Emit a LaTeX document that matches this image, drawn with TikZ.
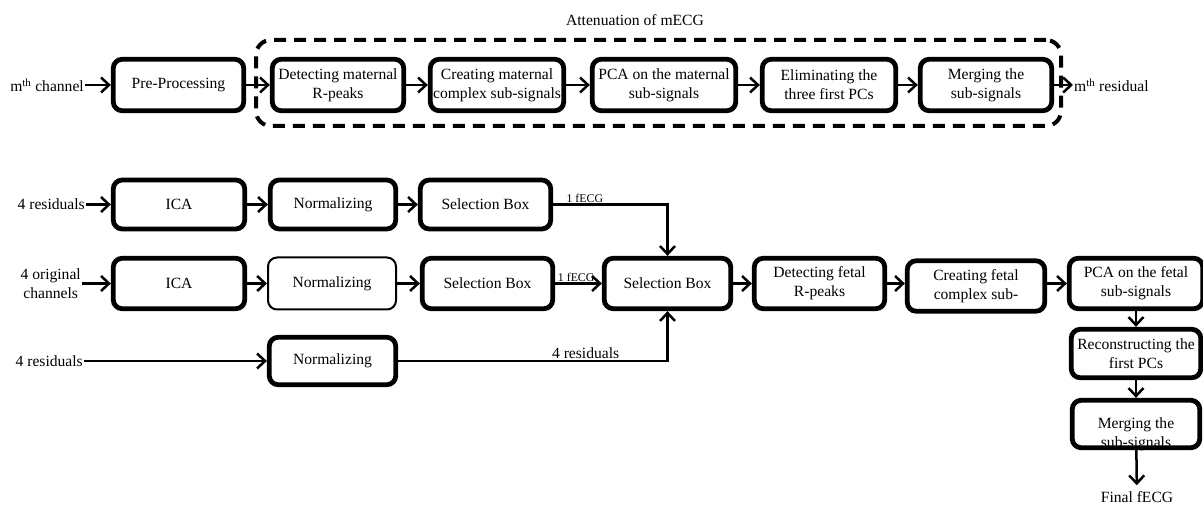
\documentclass[tikz,border=0pt]{standalone}
\usepackage{fontspec}
\setmainfont{Liberation Serif}
\usetikzlibrary{arrows.meta}
\begin{document}
\begin{tikzpicture}[x=1pt,y=-1pt, font=\fontsize{15.6}{19}\selectfont,
  box/.style={draw, line width=4.8pt, rounded corners=9pt, align=center, inner sep=0pt},
  thinbox/.style={box, line width=2pt},
  arr/.style={line width=2.5pt, -{Straight Barb[length=8pt,width=15pt]}},
  lab/.style={inner sep=1pt, align=center},
  small/.style={font=\fontsize{11.8}{13}\selectfont, inner sep=0.8pt}]
\useasboundingbox (0,0) rectangle (1203,505);

% ---------- top row ----------
\node[lab] (title) at (635,20) {Attenuation of mECG};
\node[draw, line width=4pt, dash pattern=on 12pt off 8pt, rounded corners=15pt,
      minimum width=805pt, minimum height=86pt, inner sep=0pt] (att) at (658.5,83) {};
\node[lab, anchor=east] (mch) at (85,85) {m\textsuperscript{th} channel};
\node[box, minimum width=130.5pt, minimum height=51.5pt] (pre) at (178.5,85) {Pre-Processing};
\node[box, minimum width=131.5pt, minimum height=51.5pt] (detM) at (338,85) {Detecting maternal\\R-peaks};
\node[box, minimum width=133.5pt, minimum height=51.5pt] (creM) at (497,85) {Creating maternal\\complex sub-signals};
\node[box, minimum width=143.5pt, minimum height=51.5pt] (pcaM) at (664,85) {PCA on the maternal\\sub-signals};
\node[box, minimum width=133.5pt, minimum height=51.5pt] (eliM) at (829,85) {Eliminating the\\three first PCs};
\node[box, minimum width=131.5pt, minimum height=51.5pt] (merM) at (986,85) {Merging the\\sub-signals};
\node[lab, anchor=west] (mres) at (1073,85) {m\textsuperscript{th} residual};

\draw[arr] (mch) -- (pre);
\draw[arr] (pre) -- (detM);
\draw[arr] (detM) -- (creM);
\draw[arr] (creM) -- (pcaM);
\draw[arr] (pcaM) -- (eliM);
\draw[arr] (eliM) -- (merM);
\draw[arr] (merM) -- (mres);

% ---------- row 1 ----------
\node[lab, anchor=east] (res1) at (86,204.5) {4 residuals};
\node[box, minimum width=131.5pt, minimum height=49pt] (ica1) at (179,204.5) {ICA};
\node[box, minimum width=125.5pt, minimum height=49pt] (nor1) at (333,204.5) {Normalizing};
\node[box, minimum width=130.5pt, minimum height=49pt] (sel1) at (485.5,204.5) {Selection Box};

\draw[arr] (res1) -- (ica1);
\draw[arr] (ica1) -- (nor1);
\draw[arr] (nor1) -- (sel1);

% ---------- row 2 ----------
\node[lab, anchor=east] (orig) at (82,283.5) {4 original\\channels};
\node[box, minimum width=131.5pt, minimum height=50.5pt] (ica2) at (179,283.5) {ICA};
\node[thinbox, minimum width=128pt, minimum height=52pt] (nor2) at (332,283.5) {Normalizing};
\node[box, minimum width=130.5pt, minimum height=50.5pt] (sel2) at (487.5,283.5) {Selection Box};
\node[box, minimum width=126.5pt, minimum height=50.5pt] (selM) at (667.5,283.5) {Selection Box};
\node[box, minimum width=130.5pt, minimum height=50.5pt] (detF) at (819.5,283.5) {Detecting fetal\\R-peaks};
\node[box, minimum width=137.5pt, minimum height=50.5pt] (creF) at (976,286) {Creating fetal\\complex sub-};
\node[box, minimum width=133.5pt, minimum height=50.5pt] (pcaF) at (1136,283.5) {PCA on the fetal\\sub-signals};

\draw[arr] (orig.east |- ica2.west) -- (ica2);
\draw[arr] (ica2) -- (nor2);
\draw[arr] (nor2) -- (sel2);
\draw[arr] (sel2) -- node[small, anchor=south, pos=0.45] (lab2) {1 fECG} (selM);
\draw[arr] (sel1.east) -| node[small, anchor=south west, pos=0.05] (lab1) {1 fECG} (selM.north);
\draw[arr] (selM) -- (detF);
\draw[arr] (detF) -- (creF.west |- detF.east);
\draw[arr] (creF.east |- pcaF.west) -- (pcaF);

% ---------- row 3 ----------
\node[lab, anchor=east] (res3) at (84,361) {4 residuals};
\node[box, minimum width=126.5pt, minimum height=47.5pt] (nor3) at (332.5,361) {Normalizing};
\draw[arr] (res3) -- (nor3);
\draw[arr] (nor3.east) -| node[lab, anchor=south, pos=0.348] (lab3) {4 residuals} (selM.south);

% ---------- right column ----------
\node[box, minimum width=129.5pt, minimum height=48.5pt] (recF) at (1136,353.5) {Reconstructing the\\first PCs};
\node[lab] (merFt) at (1136,434.5) {Merging the\\sub-signals};
\node[box, fill=none, minimum width=127.5pt, minimum height=47.5pt] (merF) at (1136,424) {};
\node[lab] (final) at (1137,497) {Final fECG};

\draw[arr] (pcaF) -- (recF);
\draw[arr] (recF) -- (merF);
\draw[arr, shorten >=5pt] (merF) -- (final);
\end{tikzpicture}
\end{document}
